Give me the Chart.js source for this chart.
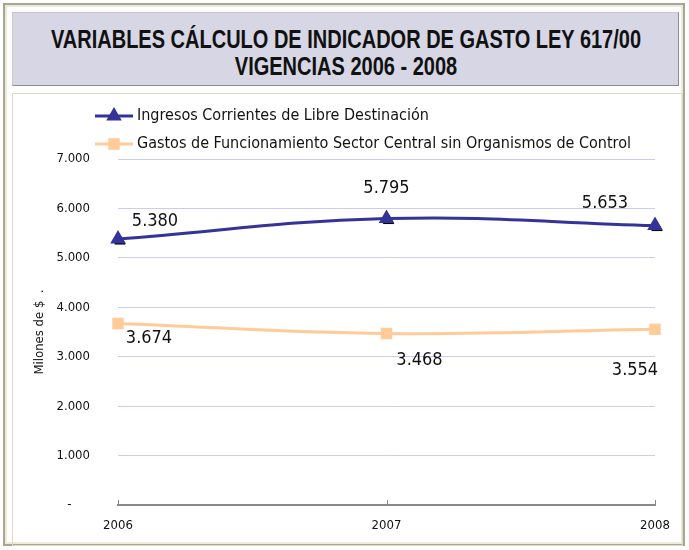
<!DOCTYPE html>
<html>
<head>
<meta charset="utf-8">
<script src="https://cdn.jsdelivr.net/npm/chart.js@4.4.1/dist/chart.umd.min.js"></script>
<style>
  body { margin: 0; background: #fff; width: 689px; height: 550px; position: relative; overflow: hidden; }
  .frame { position: absolute; left: 3px; top: 3px; width: 678px; height: 539px; border: 2px solid #a9a595; box-shadow: inset 0 0 0 2px #eeeadb; }
  .title {
    position: absolute; left: 12px; top: 12px; width: 667px; height: 74px;
    background: #d6d6e4; border: 1px solid #c8c8c8; border-right-color: #8c8c8c; border-bottom-color: #8c8c8c;
    box-sizing: border-box;
  }
  .title div {
    position: absolute; left: 50%; white-space: nowrap;
    transform: translateX(-50%) scaleX(0.8);
    font-family: "Liberation Sans", Arial, sans-serif; font-weight: bold; font-size: 25px; color: #111;
  }
  .box { position: absolute; left: 12px; top: 93px; width: 671px; height: 453px; border: 1px solid #ddd9c4; box-sizing: border-box; }
  canvas { position: absolute; left: 12px; top: 94px; }
</style>
</head>
<body>
<div class="frame"></div>
<div class="title">
  <div style="top:12px">VARIABLES CÁLCULO DE INDICADOR DE GASTO LEY 617/00</div>
  <div style="top:39px">VIGENCIAS 2006 - 2008</div>
</div>
<div class="box"></div>
<canvas id="myChart" width="670" height="450"></canvas>
<script>
// data
const years = ["2006", "2007", "2008"];
const ingresos = [5380, 5795, 5653];
const gastos = [3674, 3468, 3554];
const seriesNames = ["Ingresos Corrientes de Libre Destinación", "Gastos de Funcionamiento Sector Central sin Organismos de Control"];

// where each value label sits relative to its point
const labelOffsets = [
    [[37, -18], [0, -30], [-50, -22]],
    [[31, 15], [33, 27], [-20, 41]]
];

const narrow = '"Liberation Sans Narrow", "DejaVu Sans Condensed", sans-serif';

function fmt(v) {
    if (v === 0) return "-     ";
    return v.toString().replace(/\B(?=(\d{3})+(?!\d))/g, ".");
}

// black shadow under the triangles
const shadowPlugin = {
    id: "shadow",
    beforeDatasetDraw(chart, args) {
        if (args.index !== 0) return;
        const ctx = chart.ctx;
        ctx.save();
        ctx.fillStyle = "#000";
        ctx.strokeStyle = "#000";
        chart.getDatasetMeta(0).data.forEach(p => {
            Chart.helpers.drawPoint(ctx, { pointStyle: "triangle", radius: 6, borderWidth: 1, rotation: 0 }, p.x + 2, p.y + 2);
        });
        ctx.restore();
    }
};

const labelsPlugin = {
    id: "valueLabels",
    afterDatasetsDraw(chart) {
        const ctx = chart.ctx;
        ctx.save();
        ctx.font = "18px " + narrow;
        ctx.fillStyle = "#111";
        ctx.textAlign = "center";
        ctx.textBaseline = "middle";
        chart.data.datasets.forEach((ds, di) => {
            chart.getDatasetMeta(di).data.forEach((p, i) => {
                const o = labelOffsets[di][i];
                ctx.fillText(fmt(ds.data[i]), p.x + o[0], p.y + o[1]);
            });
        });
        ctx.restore();
    }
};

// legend with line + marker samples
const legendPlugin = {
    id: "lineLegend",
    afterDraw(chart) {
        const ctx = chart.ctx;
        ctx.save();
        chart.data.datasets.forEach((ds, i) => {
            const y = 22 + i * 28;
            ctx.strokeStyle = ds.borderColor;
            ctx.lineWidth = 3;
            ctx.beginPath();
            ctx.moveTo(83, y);
            ctx.lineTo(121, y);
            ctx.stroke();
            ctx.fillStyle = ds.pointBackgroundColor;
            ctx.strokeStyle = ds.pointBackgroundColor;
            Chart.helpers.drawPoint(ctx, { pointStyle: ds.pointStyle, radius: ds.pointRadius, borderWidth: 1, rotation: 0 }, 102, y);
            ctx.fillStyle = "#111";
            ctx.font = "16px " + narrow;
            ctx.textBaseline = "middle";
            ctx.fillText(ds.label, 125, y);
        });
        ctx.restore();
    }
};

// small tick marks standing up from the x axis
const xTicksPlugin = {
    id: "xTicks",
    afterDraw(chart) {
        const ctx = chart.ctx;
        const xs = chart.scales.x;
        ctx.save();
        ctx.strokeStyle = "#888";
        ctx.lineWidth = 1;
        xs.ticks.forEach((t, i) => {
            const x = Math.round(xs.getPixelForTick(i)) + 0.5;
            ctx.beginPath();
            ctx.moveTo(x, xs.top);
            ctx.lineTo(x, xs.top - 5);
            ctx.stroke();
        });
        ctx.restore();
    }
};

const ctx = document.getElementById("myChart");

new Chart(ctx, {
    type: "line",
    data: {
        labels: years,
        datasets: [
            {
                label: seriesNames[0],
                data: ingresos,
                borderColor: "#333399",
                borderWidth: 3,
                pointStyle: "triangle",
                pointRadius: 6,
                pointBackgroundColor: "#333399",
                pointBorderColor: "#333399",
                tension: 0.4
            },
            {
                label: seriesNames[1],
                data: gastos,
                borderColor: "#ffcc99",
                borderWidth: 3,
                pointStyle: "rect",
                pointRadius: 6,
                pointBackgroundColor: "#ffcc99",
                pointBorderColor: "#ffcc99",
                tension: 0.4
            }
        ]
    },
    options: {
        responsive: false,
        animation: false,
        layout: { padding: { top: 65, right: 27, left: 0, bottom: 0 } },
        plugins: { legend: { display: false }, tooltip: { enabled: false } },
        scales: {
            x: {
                offset: false,
                grid: { display: false },
                border: { display: true, color: "#888", width: 2 },
                ticks: { color: "#111", font: { family: narrow, size: 13 }, padding: 5, maxRotation: 0 },
                afterFit(s) { s.height = 39; }
            },
            y: {
                min: 0,
                max: 7000,
                ticks: { stepSize: 1000, color: "#111", font: { family: narrow, size: 13 }, padding: 28, callback: v => fmt(v) },
                grid: { color: "#ccccf0", lineWidth: 1, drawTicks: false },
                border: { display: false },
                title: { display: true, text: "Milones de $  .", color: "#111", font: { family: narrow, size: 13 }, padding: { top: 20 } },
                afterFit(s) { s.width = 106; }
            }
        }
    },
    plugins: [shadowPlugin, labelsPlugin, legendPlugin, xTicksPlugin]
});
</script>
</body>
</html>
